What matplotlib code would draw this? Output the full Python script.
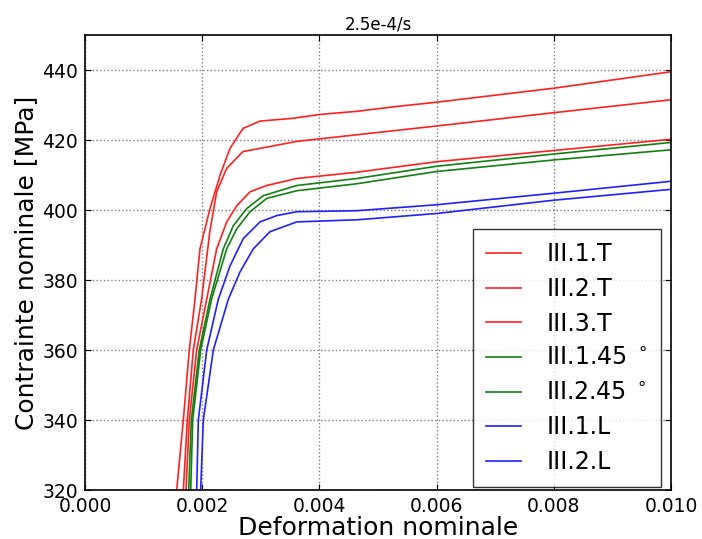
import numpy as np
import matplotlib
matplotlib.use("Agg")
import matplotlib.pyplot as plt

# valeurs (deformation, contrainte MPa)
eps_1T = [0.001565, 0.001678, 0.00178, 0.001877, 0.001962, 0.002133, 0.002304, 0.002474, 0.002696, 0.002986, 0.00355, 0.00401, 0.00464, 0.00533, 0.006, 0.008, 0.010]
sig_1T = [320, 340, 360, 374.5, 388.9, 400.4, 409.9, 417.6, 423.3, 425.4, 426.2, 427.3, 428.2, 429.6, 430.8, 434.8, 439.5]

eps_2T = [0.001678, 0.001746, 0.001848, 0.00199, 0.00213, 0.002247, 0.002418, 0.002696, 0.002986, 0.003613, 0.00464, 0.006, 0.008, 0.010]
sig_2T = [320, 340, 360, 374.5, 393.8, 405.2, 411.9, 416.7, 417.6, 419.6, 421.5, 424, 427.8, 431.5]

eps_3T = [0.001724, 0.00178, 0.001906, 0.002077, 0.002247, 0.002418, 0.002589, 0.002816, 0.0031, 0.003613, 0.00464, 0.006, 0.008, 0.010]
sig_3T = [320, 340, 360, 374.5, 388.9, 396.6, 401.2, 405.2, 407, 409, 410.8, 413.8, 417, 420.2]

eps_145 = [0.00177, 0.001814, 0.00195, 0.002133, 0.00236, 0.002531, 0.002759, 0.003043, 0.003613, 0.00464, 0.006, 0.008, 0.010]
sig_145 = [320, 340, 360, 374.5, 388.9, 395.5, 400.4, 404.1, 407, 409, 412.5, 416, 419.3]

eps_245 = [0.001804, 0.001838, 0.001974, 0.00216, 0.002418, 0.002589, 0.002816, 0.0031, 0.003613, 0.00464, 0.006, 0.008, 0.010]
sig_245 = [320, 340, 360, 374.5, 388.9, 394.6, 399.5, 403.3, 405.5, 407.5, 411, 414.3, 417.2]

eps_1L = [0.001906, 0.001934, 0.002077, 0.002275, 0.002474, 0.0027, 0.002986, 0.00327, 0.003613, 0.00464, 0.006, 0.008, 0.010]
sig_1L = [320, 340, 360, 374.5, 384, 391.8, 396.6, 398.4, 399.5, 399.8, 401.5, 404.8, 408.2]

eps_2L = [0.001974, 0.002019, 0.00219, 0.002446, 0.002645, 0.002872, 0.003157, 0.003613, 0.00464, 0.006, 0.008, 0.010]
sig_2L = [320, 340, 360, 374.5, 382.3, 388.9, 393.8, 396.6, 397.2, 399, 402.8, 405.9]

labels = ["III.1.T", "III.2.T", "III.3.T", "III.1.45 $^\\circ$", "III.2.45 $^\\circ$", "III.1.L", "III.2.L"]
couleurs = ["#ff2020", "#ff2020", "#ff2020", "#108010", "#108010", "#2020ff", "#2020ff"]
courbes = [(eps_1T, sig_1T), (eps_2T, sig_2T), (eps_3T, sig_3T),
           (eps_145, sig_145), (eps_245, sig_245), (eps_1L, sig_1L), (eps_2L, sig_2L)]

plt.rcParams['font.family'] = ['DejaVu Sans']

fig = plt.figure(figsize=(7.02, 5.39), dpi=100)
ax = fig.add_axes([85/702, 49/539, 586/702, 455/539])

for (e, s), lab, c in zip(courbes, labels, couleurs):
    ax.plot(e, s, color=c, lw=1.2, label=lab)

ax.set_xlim(0, 0.010)
ax.set_ylim(320, 450)
ax.set_xticks([0.000, 0.002, 0.004, 0.006, 0.008, 0.010])
ax.set_xticklabels(["0.000", "0.002", "0.004", "0.006", "0.008", "0.010"])
ax.set_yticks([320, 340, 360, 380, 400, 420, 440])
ax.tick_params(direction='in', top=True, right=True, labelsize=13.5, length=4, pad=5)
ax.grid(True, linestyle=':', color='gray', lw=1)
for sp in ax.spines.values():
    sp.set_linewidth(1.2)

ax.set_xlabel("Deformation nominale", fontsize=18, labelpad=0)
ax.set_ylabel("Contrainte nominale [MPa]", fontsize=18, labelpad=3)
ax.set_title("2.5e-4/s", fontsize=12, pad=4)

leg = ax.legend(loc='lower right', bbox_to_anchor=(661/702, 52/539),
                bbox_transform=fig.transFigure, borderaxespad=0,
                fontsize=17, labelspacing=0.45, handlelength=1.5,
                handletextpad=1.05, fancybox=False, borderpad=0.55)
leg.get_frame().set_edgecolor('black')
leg.get_frame().set_linewidth(1.0)

fig.savefig("out.png", dpi=100)
